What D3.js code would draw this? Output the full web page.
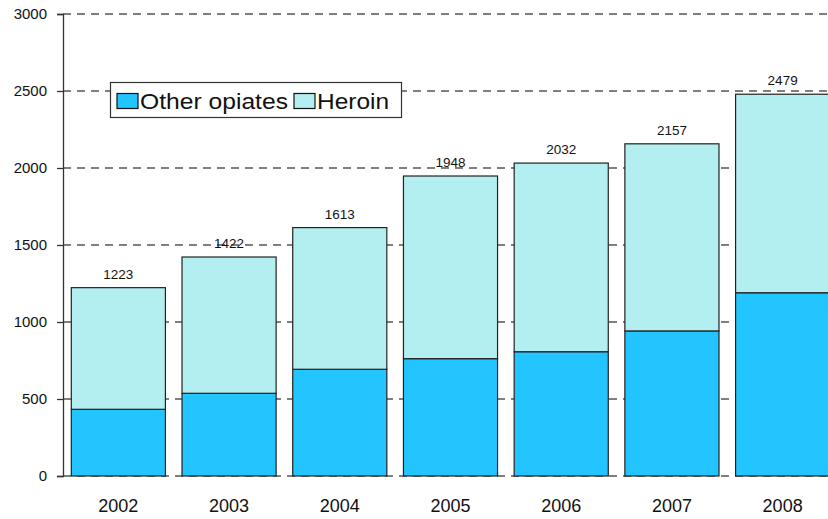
<!DOCTYPE html>
<html>
<head>
<meta charset="utf-8">
<script src="https://cdn.jsdelivr.net/npm/d3@7"></script>
<style>
  body { margin: 0; background: #fff; }
  svg { font-family: Arial, "Liberation Sans", sans-serif; }
</style>
</head>
<body>
<svg width="828" height="519"></svg>
<script>
// chart data
const years = ["2002", "2003", "2004", "2005", "2006", "2007", "2008"];
const otherOpiates = [433, 537, 693, 762, 807, 942, 1190];
const totals = [1223, 1422, 1613, 1948, 2032, 2157, 2479];
const heroin = totals.map((t, i) => t - otherOpiates[i]);
const yTicks = [0, 500, 1000, 1500, 2000, 2500, 3000];

const seriesNames = ["Other opiates", "Heroin"];
const colors = ["#22c5ff", "#b3eff0"];

let svg = d3.select("svg");

let x = d3.scaleBand()
    .domain(years)
    .range([63, 838])
    .paddingInner(0.15)
    .paddingOuter(0.075);

let y = d3.scaleLinear()
    .domain([0, 3000])
    .range([476, 14]);

// build stacked rows from the arrays
let rows = years.map((yr, i) => ({year: yr, "Other opiates": otherOpiates[i], "Heroin": heroin[i], total: totals[i]}));
let stacked = d3.stack().keys(seriesNames)(rows);

// dashed gridlines
svg.append("g")
    .selectAll("line")
    .data(yTicks)
    .enter().append("line")
        .attr("x1", 63)
        .attr("x2", 828)
        .attr("y1", d => y(d))
        .attr("y2", d => y(d))
        .style("stroke", "#555")
        .style("stroke-width", 1.3)
        .style("stroke-dasharray", "8,6");

// bars
svg.append("g")
    .selectAll("g")
    .data(stacked)
    .enter().append("g")
        .attr("fill", (d, i) => colors[i])
    .selectAll("rect")
    .data(d => d)
    .enter().append("rect")
        .attr("x", d => x(d.data.year))
        .attr("width", x.bandwidth())
        .attr("y", d => y(d[1]))
        .attr("height", d => y(d[0]) - y(d[1]))
        .style("stroke", "#222")
        .style("stroke-width", 1.2);

// totals above bars
svg.append("g")
    .selectAll("text")
    .data(rows)
    .enter().append("text")
        .attr("x", d => x(d.year) + x.bandwidth() / 2)
        .attr("y", d => y(d.total) - 9)
        .attr("text-anchor", "middle")
        .style("font-size", "13.5px")
        .style("fill", "#111")
        .text(d => d.total);

// y axis
let yAxis = svg.append("g")
    .attr("transform", "translate(63,0)")
    .call(d3.axisLeft(y).tickValues(yTicks).tickSize(6).tickPadding(10).tickFormat(d3.format("d")));
yAxis.select(".domain").attr("stroke", "#333").attr("stroke-width", 1.3);
yAxis.selectAll(".tick line").attr("stroke", "#333").attr("stroke-width", 1.3);
yAxis.selectAll("text")
    .style("font-size", "15px")
    .style("fill", "#111")
    .attr("font-family", null);

// x labels
svg.append("g")
    .selectAll("text")
    .data(years)
    .enter().append("text")
        .attr("x", d => x(d) + x.bandwidth() / 2)
        .attr("y", 512)
        .attr("text-anchor", "middle")
        .style("font-size", "18px")
        .style("fill", "#111")
        .text(d => d);

// legend
let legend = svg.append("g");
legend.append("rect")
    .attr("x", 110.5).attr("y", 82.5)
    .attr("width", 291).attr("height", 35)
    .attr("fill", "#fff")
    .style("stroke", "#333")
    .style("stroke-width", 1.2);

const legendX = [117, 294];
const legendTextW = [148, 72];
seriesNames.forEach((name, i) => {
    legend.append("rect")
        .attr("x", legendX[i]).attr("y", 93.5)
        .attr("width", 21).attr("height", 15)
        .attr("fill", colors[i])
        .style("stroke", "#111")
        .style("stroke-width", 1.2);
    legend.append("text")
        .attr("x", legendX[i] + 23)
        .attr("y", 109)
        .attr("textLength", legendTextW[i])
        .attr("lengthAdjust", "spacingAndGlyphs")
        .style("font-size", "22px")
        .style("fill", "#111")
        .text(name);
});
</script>
</body>
</html>
